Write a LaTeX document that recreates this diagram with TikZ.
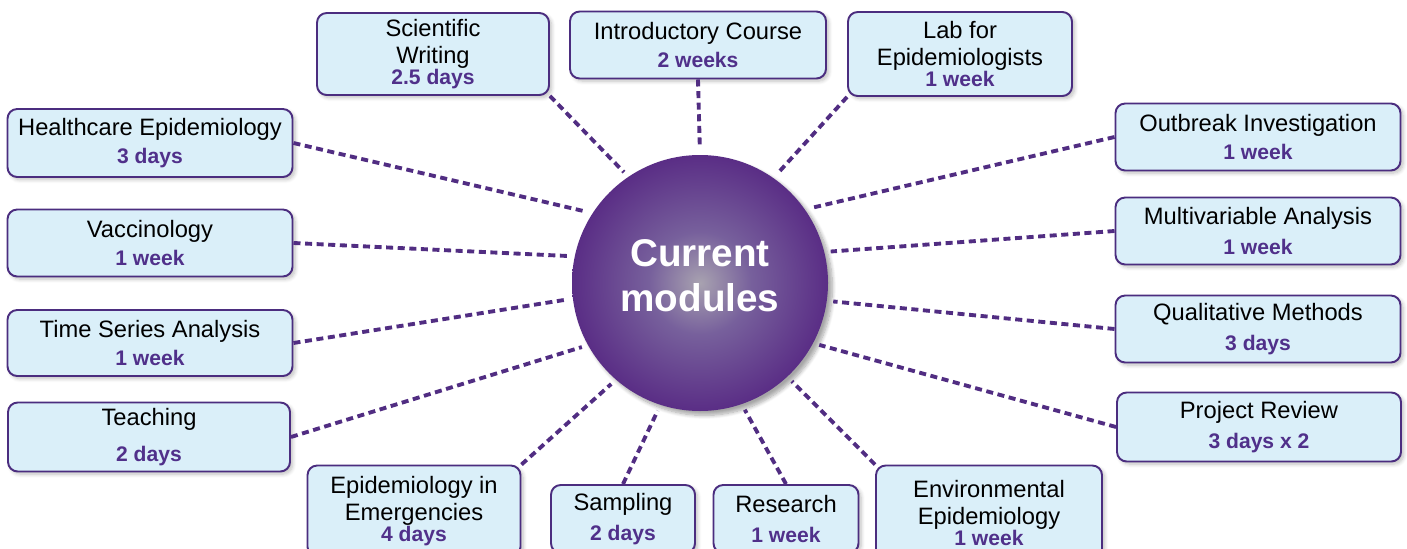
\documentclass[tikz,border=0pt]{standalone}
\usepackage{fontspec}
\setmainfont{Liberation Sans}
\usepackage{tikz}
\usetikzlibrary{shadows}
\usetikzlibrary{shadows.blur}

\definecolor{boxfill}{HTML}{DAEFF9}
\definecolor{boxline}{HTML}{4B2D7F}
\definecolor{durpurple}{HTML}{50308A}
\definecolor{linkpurple}{HTML}{512D82}
\definecolor{corepurple}{HTML}{582A84}
\definecolor{coremid}{HTML}{A8A2B0}
\definecolor{coreinner}{HTML}{77609C}

\pgfdeclareradialshading{coreglow}{\pgfpoint{0bp}{0bp}}{color(0bp)=(coremid); color(10bp)=(coreinner); color(26bp)=(corepurple); color(50bp)=(corepurple)}

\newcommand{\dur}[1]{{\color{durpurple}\bfseries\fontsize{12}{14}\selectfont #1}}

\tikzset{
  module/.style={draw=boxline, line width=1.1pt, fill=boxfill, rounded corners=5.5pt, align=center, inner sep=0pt, font=\fontsize{13.5}{15.3}\selectfont, blur shadow={shadow xshift=1.5pt, shadow yshift=-1.5pt, shadow opacity=25, shadow blur steps=6}},
  boxsize/.style 2 args={minimum width=#1*0.02cm, minimum height=#2*0.02cm},
  link/.style={draw=linkpurple, line width=2.2pt, dash pattern=on 4pt off 2.6pt, shorten >=3.5pt},
}

\begin{document}
\begin{tikzpicture}[x=0.02cm, y=-0.02cm]
\useasboundingbox (0,0) rectangle (1407,548);
\clip (0,0) rectangle (1407,548);

\node(core)[circle, minimum size=256*0.02cm, shade, shading=coreglow, blur shadow={shadow xshift=2.5pt, shadow yshift=-2.5pt, shadow opacity=35, shadow blur steps=8}] at (700,283) {};
\node(coretext)[text=white, align=center, font=\bfseries\fontsize{22}{25.5}\selectfont] at (700,276) {Current\\modules};

% top row
\node(sw)[module, boxsize={232}{82}] at (433,54) {Scientific\\Writing\\[-3pt]\dur{2.5 days}};
\node(ic)[module, boxsize={256}{67}] at (698,45) {Introductory Course\\[1pt]\dur{2 weeks}};
\node(lab)[module, boxsize={224}{84}] at (960,54) {Lab for\\Epidemiologists\\[-3pt]\dur{1 week}};

% left column
\node(hc)[module, boxsize={285}{68}] at (150,143) {Healthcare Epidemiology\\[1pt]\dur{3 days}};
\node(vac)[module, boxsize={285}{67}] at (150,243) {Vaccinology\\[1pt]\dur{1 week}};
\node(ts)[module, boxsize={285}{66}] at (150,343) {Time Series Analysis\\[1pt]\dur{1 week}};
\node(tch)[module, boxsize={282}{69}] at (149,437) {Teaching\\[5pt]\dur{2 days}};

% right column
\node(ob)[module, boxsize={285}{67}] at (1258,137) {Outbreak Investigation\\[1pt]\dur{1 week}};
\node(mv)[module, boxsize={285}{67}] at (1258,231) {Multivariable Analysis\\[1.5pt]\dur{1 week}};
\node(qm)[module, boxsize={285}{67}] at (1258,329) {Qualitative Methods\\[1.5pt]\dur{3 days}};
\node(pr)[module, boxsize={284}{69}] at (1259,427) {Project Review\\[1.5pt]\dur{3 days x 2}};

% bottom row
\node(em)[module, boxsize={213}{91}] at (414,511) {Epidemiology in\\Emergencies\\[-3.5pt]\dur{4 days}};
\node(smp)[module, boxsize={144}{68}] at (623,519) {Sampling\\[2pt]\dur{2 days}};
\node(res)[module, boxsize={145}{68}] at (786,519) {Research\\[2pt]\dur{1 week}};
\node(env)[module, boxsize={226}{95}] at (989,513) {Environmental\\Epidemiology\\[-3.5pt]\dur{1 week}};

\draw[link] (sw.south east) -- (core.124);
\draw[link] (ic.south) -- (core.90);
\draw[link] (lab.south west) -- (core.55);

\draw[link] (hc.east) -- (core.147);
\draw[link] (vac.east) -- (core.168);
\draw[link] (ts.east) -- (core.187);
\draw[link] (tch.east) -- (core.209);

\draw[link] (em.north east) -- (core.229);
\draw[link] (smp.north) -- (core.252);
\draw[link] (res.north) -- (core.289);
\draw[link] (env.north west) -- (core.313);

\draw[link] (pr.west) -- (core.332);
\draw[link] (qm.west) -- (core.352);
\draw[link] (mv.west) -- (core.14);
\draw[link] (ob.west) -- (core.35);
\end{tikzpicture}
\end{document}
